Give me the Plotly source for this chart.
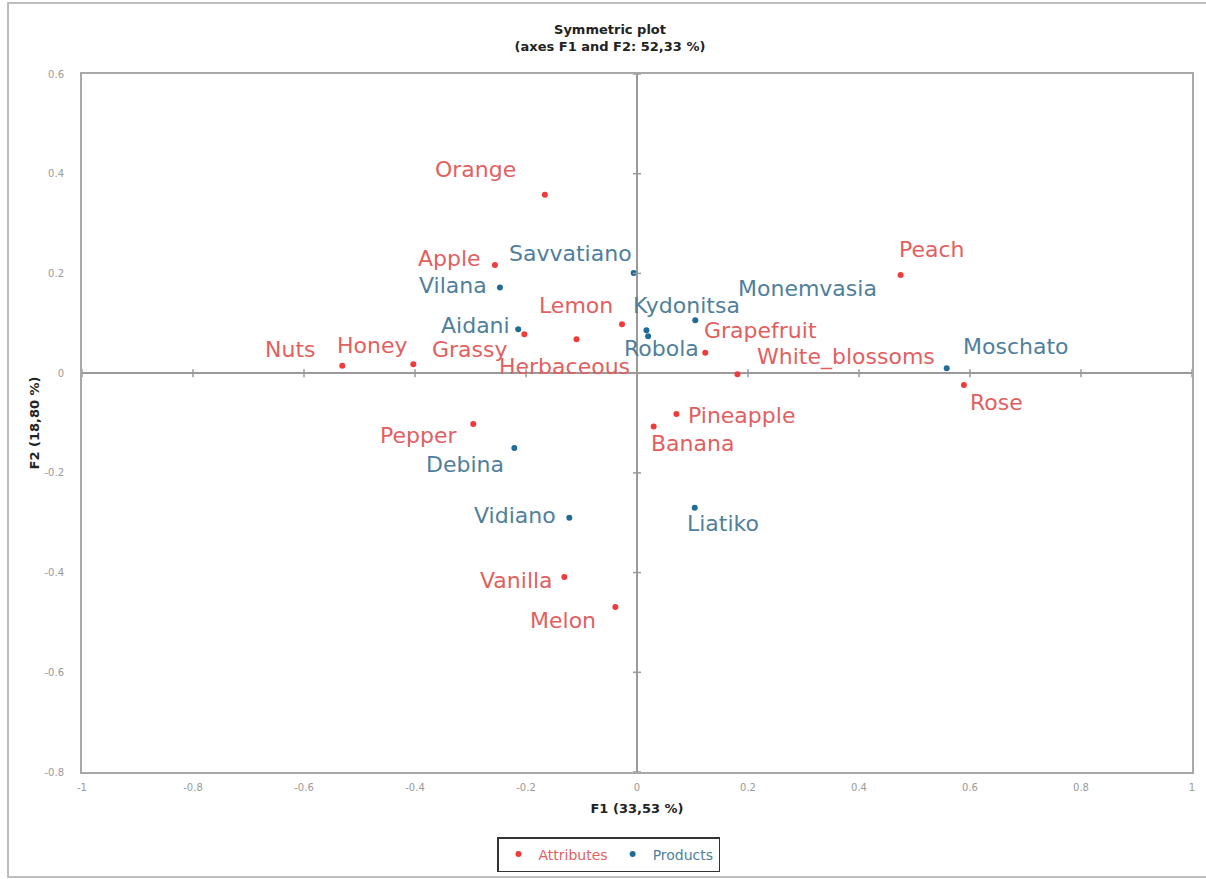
import plotly.graph_objects as go

# F1 / F2 coordinates of the sensory attributes
attr_names = ["Orange", "Apple", "Peach", "Lemon", "Herbaceous", "Grassy", "Honey", "Nuts",
              "Grapefruit", "White_blossoms", "Rose", "Pineapple", "Banana", "Pepper",
              "Vanilla", "Melon"]
attr_f1 = [-0.166, -0.256, 0.475, -0.027, -0.109, -0.203, -0.403, -0.531,
           0.123, 0.181, 0.589, 0.071, 0.030, -0.295, -0.131, -0.039]
attr_f2 = [0.358, 0.217, 0.197, 0.098, 0.068, 0.078, 0.018, 0.015,
           0.041, -0.002, -0.024, -0.082, -0.107, -0.102, -0.409, -0.469]

# F1 / F2 coordinates of the wines
prod_names = ["Savvatiano", "Vilana", "Aidani", "Kydonitsa", "Monemvasia", "Robola",
              "Moschato", "Debina", "Vidiano", "Liatiko"]
prod_f1 = [-0.006, -0.247, -0.214, 0.017, 0.105, 0.020, 0.558, -0.221, -0.122, 0.104]
prod_f2 = [0.201, 0.172, 0.088, 0.086, 0.106, 0.074, 0.010, -0.150, -0.290, -0.270]

x_ticks = [-1, -0.8, -0.6, -0.4, -0.2, 0, 0.2, 0.4, 0.6, 0.8, 1]
x_tick_text = ["-1", "-0.8", "-0.6", "-0.4", "-0.2", "0", "0.2", "0.4", "0.6", "0.8", "1"]
y_ticks = [-0.8, -0.6, -0.4, -0.2, 0, 0.2, 0.4, 0.6]
y_tick_text = ["-0.8", "-0.6", "-0.4", "-0.2", "0", "0.2", "0.4", "0.6"]

# label centre offsets from each point, in pixels (right, down)
attr_offsets = [(-69, -25), (-45, -6), (31, -25), (-46, -19), (-12, 27), (-54, 15),
                (-41, -19), (-52, -16), (55, -22), (109, -17), (33, 17), (65, 1),
                (39, 17), (-55, 11), (-48, 3), (-52, 14)]
prod_offsets = [(-63, -19), (-47, -2), (-43, -4), (40, -25), (112, -32), (13, 12),
                (69, -22), (-49, 17), (-54, -2), (28, 16)]

ATTR_DOT, ATTR_TXT = "#ef3b3b", "#e25f5f"
PROD_DOT, PROD_TXT = "#1f6c99", "#4f7f9c"
LABEL_FONT = "DejaVu Sans"
LABEL_SIZE = 22

fig = go.Figure()
fig.add_trace(go.Scatter(
    x=attr_f1, y=attr_f2, mode="markers",
    name=f"<span style='color:{ATTR_TXT}'>Attributes</span>",
    marker=dict(color=ATTR_DOT, size=6),
))
fig.add_trace(go.Scatter(
    x=prod_f1, y=prod_f2, mode="markers",
    name=f"<span style='color:{PROD_TXT}'>Products</span>",
    marker=dict(color=PROD_DOT, size=6),
))

annotations = []
for names, xs, ys, offs, col in [
    (attr_names, attr_f1, attr_f2, attr_offsets, ATTR_TXT),
    (prod_names, prod_f1, prod_f2, prod_offsets, PROD_TXT),
]:
    for n, xv, yv, (dx, dy) in zip(names, xs, ys, offs):
        annotations.append(dict(
            x=xv, y=yv, xref="x", yref="y", text=n, showarrow=False,
            xanchor="center", yanchor="middle", xshift=dx, yshift=-dy,
            font=dict(family=LABEL_FONT, size=LABEL_SIZE, color=col),
        ))

shapes = []
# tick crosses along the zero lines
for t in x_ticks:
    shapes.append(dict(type="line", xref="x", yref="y", x0=t, x1=t, ysizemode="pixel",
                       yanchor=0, y0=-4, y1=4, line=dict(color="#9a9a9a", width=1.5)))
for t in y_ticks:
    shapes.append(dict(type="line", xref="x", yref="y", y0=t, y1=t, xsizemode="pixel",
                       xanchor=0, x0=-4, x1=4, line=dict(color="#9a9a9a", width=1.5)))
# outer chart frame
shapes.append(dict(type="rect", xref="paper", yref="paper",
                   x0=(8 - 82) / 1110, x1=(1212 - 82) / 1110,
                   y0=-(877 - 772) / 698, y1=1 + (74 - 3) / 698,
                   line=dict(color="#bdbdbd", width=2), layer="below"))

axis_common = dict(showgrid=False, showline=True, mirror=True, linecolor="#a8a8a8",
                   linewidth=2, zeroline=True, zerolinecolor="#9a9a9a", zerolinewidth=2,
                   ticks="", automargin=False,
                   tickfont=dict(family="DejaVu Sans", size=10, color="#9a9a9a"),
                   title_font=dict(family="DejaVu Sans", size=13, color="#222"))

fig.update_layout(
    width=1206, height=879,
    margin=dict(l=82, r=14, t=74, b=107, autoexpand=False),
    paper_bgcolor="white", plot_bgcolor="white",
    title=dict(text="<b>Symmetric plot<br>(axes F1 and F2: 52,33 %)</b>",
               x=(610 - 82) / 1110, xref="paper", xanchor="center",
               y=1 - 34 / 879, yanchor="top",
               font=dict(family="DejaVu Sans", size=13, color="#222")),
    xaxis=dict(range=[-1, 1], tickvals=x_ticks, ticktext=x_tick_text,
               title=dict(text="<b>F1 (33,53 %)</b>", standoff=12),
               ticklabelstandoff=5, **axis_common),
    yaxis=dict(range=[-0.8, 0.6], tickvals=y_ticks, ticktext=y_tick_text,
               title=dict(text="<b>F2 (18,80 %)</b>", standoff=2),
               ticklabelstandoff=14, **axis_common),
    showlegend=True,
    legend=dict(orientation="h", x=(497 - 82) / 1110, xanchor="left",
                y=-(837 - 772) / 698, yanchor="top",
                bordercolor="#333", borderwidth=1.5,
                font=dict(family="DejaVu Sans", size=14)),
    annotations=annotations,
    shapes=shapes,
)

fig.write_html("out.html")
